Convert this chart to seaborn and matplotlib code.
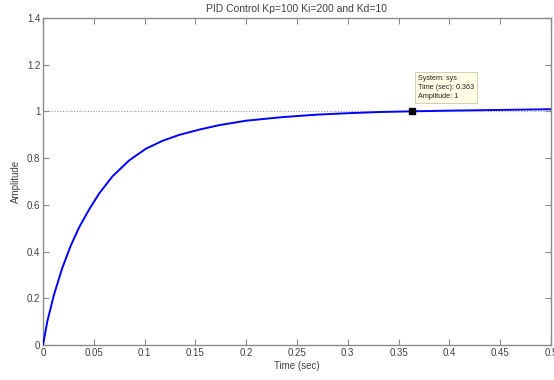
import matplotlib
matplotlib.use("Agg")
import matplotlib.pyplot as plt
import seaborn as sns
import pandas as pd

# Step response samples of the closed loop
time_sec = [0, 0.0042, 0.0108, 0.019, 0.0273, 0.0355, 0.0454, 0.0552, 0.0684,
            0.0848, 0.1013, 0.1177, 0.134, 0.154, 0.1736, 0.2, 0.235, 0.27,
            0.3, 0.33, 0.363, 0.4, 0.45, 0.5]
amplitude = [0, 0.10, 0.215, 0.33, 0.425, 0.503, 0.58, 0.648, 0.722,
             0.79, 0.84, 0.874, 0.899, 0.922, 0.941, 0.96, 0.975, 0.986,
             0.992, 0.997, 1.0, 1.003, 1.006, 1.009]

x_ticks = [0, 0.05, 0.1, 0.15, 0.2, 0.25, 0.3, 0.35, 0.4, 0.45, 0.5]
x_tick_labels = ["0", "0.05", "0.1", "0.15", "0.2", "0.25", "0.3", "0.35", "0.4", "0.45", "0.5"]
y_ticks = [0, 0.2, 0.4, 0.6, 0.8, 1.0, 1.2, 1.4]
y_tick_labels = ["0", "0.2", "0.4", "0.6", "0.8", "1", "1.2", "1.4"]

tip_time = 0.363
tip_amp = 1.0
tip_lines = ["System: sys", "Time (sec): 0.363", "Amplitude: 1"]

sns.set_theme(style="white")
plt.rcParams["font.family"] = ["Liberation Sans", "DejaVu Sans"]

text_col = "#404040"
axis_col = "#8a8a8a"

fig = plt.figure(figsize=(5.54, 3.80), dpi=100)
ax = fig.add_axes([0.0776, 0.092, 0.917, 0.861])

df = pd.DataFrame({"t": time_sec, "y": amplitude})

# final-value reference line
ax.axhline(1.0, color="#9a9a9a", lw=0.8, ls=(0, (1, 1.5)), zorder=1)

sns.lineplot(data=df, x="t", y="y", ax=ax, color="#0000ff", lw=1.4, zorder=3)

ax.set_xlim(0, 0.5)
ax.set_ylim(0, 1.4)
ax.set_xticks(x_ticks)
ax.set_xticklabels(x_tick_labels)
ax.set_yticks(y_ticks)
ax.set_yticklabels(y_tick_labels)

ax.tick_params(direction="in", length=4, width=0.8, colors=axis_col,
               labelcolor=text_col, labelsize=7, top=True, right=True,
               bottom=True, left=True, pad=2)
for s in ax.spines.values():
    s.set_visible(True)
    s.set_color(axis_col)
    s.set_linewidth(1.0)

ax.set_xlabel("Time (sec)", fontsize=7, color=text_col, labelpad=2)
ax.set_ylabel("Amplitude", fontsize=7, color=text_col, labelpad=4)
ax.set_title("PID Control Kp=100 Ki=200 and Kd=10", fontsize=7.5,
             color=text_col, pad=4)

# data tip marker and its label box
ax.plot([tip_time], [tip_amp], marker="s", ms=4.5, color="black",
        mec="black", zorder=5)
ax.annotate("\n".join(tip_lines), xy=(tip_time, tip_amp),
            xytext=(4.5, 8.5), textcoords="offset points",
            fontsize=5.2, color="#202020", va="bottom", ha="left",
            linespacing=1.35,
            bbox=dict(boxstyle="square,pad=0.45", fc="#ffffe6",
                      ec="#c8c8b0", lw=0.6),
            zorder=6)

fig.savefig("out.png", dpi=100, facecolor="white")
